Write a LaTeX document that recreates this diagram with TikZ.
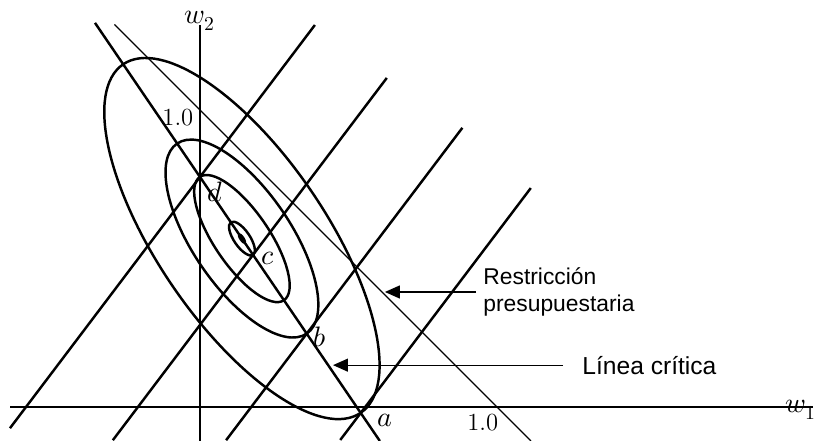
\documentclass[tikz,border=0pt]{standalone}
\usepackage{fontspec}
\usepackage{unicode-math}
\usepackage{tikz}
\usetikzlibrary{arrows.meta,calc}
\newfontfamily\labelfont{Liberation Sans}

\begin{document}
\begin{tikzpicture}[x=5.9cm, y=5.9cm,
  axisline/.style={line width=0.7pt},
  budget/.style={line width=0.7pt},
  bold/.style={line width=1.4pt},
  pointer/.style={line width=0.7pt, -{Triangle[length=3mm, width=2.6mm]}},
  note/.style={font=\labelfont\fontsize{13}{15.5}\selectfont, align=left, inner ysep=0pt},
  ptlabel/.style={font=\fontsize{16}{18}\selectfont, inner sep=0pt},
  num/.style={font=\fontsize{14}{16}\selectfont, inner sep=0pt}]
\useasboundingbox (-0.678,-0.115) rectangle (2.092,1.380);
% axes
\draw[axisline] (-0.644,0) -- (2.08,0);
\draw[axisline] (0,-0.115) -- (0,1.295);
\node[ptlabel] (w1) at (2.037,-0.01) {$w_1$};
\node[ptlabel] (w2) at (0,1.31) {$w_2$};
\node[num] (one2) at (-0.075,0.983) {1.0};
\node[num] (one1) at (0.959,-0.054) {1.0};
% points on the critical line
\coordinate (d) at (0,0.78);
\coordinate (a) at (0.545,-0.02);
\coordinate (c) at ($(d)!0.33!(a)$);
\coordinate (b) at ($(d)!0.664!(a)$);
\coordinate (m) at ($(d)!0.261!(a)$);
% budget line
\draw[budget] (-0.29,1.297) -- (1.122,-0.115);
% critical line
\draw[bold] ($(d)!-0.653!(a)$) -- ($(d)!1.119!(a)$);
% iso-return lines
\foreach \p/\lo/\hi in {d/1.068/0.646, c/0.788/0.752, b/0.453/0.875, a/0.115/0.956}
  \draw[bold] ($(\p)+(232.9:\lo)$) -- ($(\p)+(52.9:\hi)$);
% iso-variance ellipses
\foreach \r/\s in {0.067/0.027, 0.253/0.093, 0.39/0.166, 0.715/0.285}
  \draw[bold] (m) ellipse [x radius=\r, y radius=\s, rotate=-55.7];
\fill (m) ellipse [x radius=0.022, y radius=0.009, rotate=-55.7];
% labels
\node[ptlabel] (ld) at (0.051,0.729) {$d$};
\node[ptlabel] (lc) at (0.231,0.505) {$c$};
\node[ptlabel] (lb) at (0.407,0.237) {$b$};
\node[ptlabel] (la) at (0.627,-0.044) {$a$};
\node[note, anchor=west, inner xsep=0.14cm] (restr) at (0.936,0.39) {Restricción\\presupuestaria};
\coordinate (rtip) at (0.627,0.397);
\draw[pointer] (restr.west) -- (restr.west -| rtip);
\node[note, anchor=west, inner xsep=0.38cm, font=\labelfont\fontsize{14}{16}\selectfont] (crit) at (1.231,0.142) {Línea crítica};
\coordinate (ctip) at (0.451,0.14);
\draw[pointer] (crit.west) -- (crit.west -| ctip);
\end{tikzpicture}
\end{document}
